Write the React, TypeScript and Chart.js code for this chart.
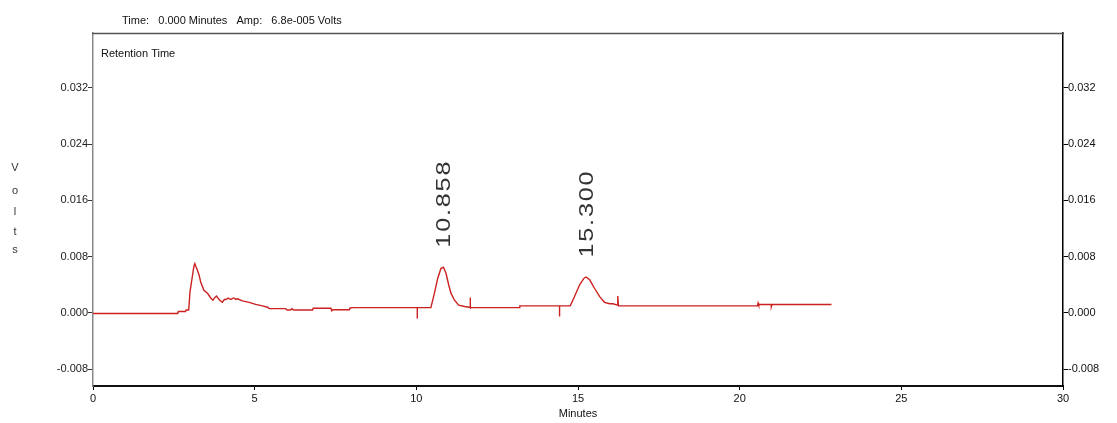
import React, { useEffect, useRef } from 'react';
import { Chart, registerables } from 'chart.js';

Chart.register(...registerables);

// ---- data ----
const traceTimes = [
  0, 2.62, 2.64, 2.86, 2.88, 2.96, 3.0, 3.07, 3.12, 3.15, 3.18, 3.21, 3.28, 3.33, 3.43, 3.54, 3.6, 3.64, 3.71,
  3.77, 3.82, 3.88, 3.92, 4.0, 4.06, 4.11, 4.18, 4.26, 4.33, 4.37, 4.42, 4.47, 4.62, 4.83, 5.03, 5.24, 5.4,
  5.45, 5.96, 6.0, 6.1, 6.15, 6.2, 6.79, 6.81, 7.36, 7.38, 7.42, 7.93, 7.95, 8.05,
  10.03, 10.03, 10.03, 10.45, 10.56, 10.66, 10.76, 10.84, 10.92, 11.0, 11.07, 11.18, 11.31, 11.49, 11.64,
  11.66, 11.66, 11.68, 13.18, 13.2, 14.43, 14.43, 14.43, 14.76, 14.89, 15.05, 15.18, 15.25, 15.36, 15.51,
  15.67, 15.82, 15.98, 16.08, 16.22, 16.23, 16.23, 16.25, 20.55, 20.57, 20.59, 20.65, 20.97, 20.98, 21.0, 22.84,
];
const traceVolts = [
  -0.0001, -0.0001, 0.0002, 0.0002, 0.0004, 0.0004, 0.003, 0.0051, 0.0066, 0.007, 0.0066, 0.0063, 0.0054,
  0.0044, 0.0032, 0.0028, 0.0024, 0.0021, 0.0018, 0.0022, 0.0024, 0.002, 0.0018, 0.0015, 0.0019, 0.0019,
  0.0021, 0.0019, 0.0021, 0.0021, 0.0019, 0.002, 0.0017, 0.0015, 0.0012, 0.001, 0.0008, 0.0006, 0.0006,
  0.0004, 0.0004, 0.0006, 0.0004, 0.0004, 0.00065, 0.00065, 0.0003, 0.00045, 0.00045, 0.0007, 0.00075,
  0.00075, -0.0008, 0.00075, 0.00075, 0.0028, 0.0049, 0.0063, 0.0065, 0.0056, 0.004, 0.0028, 0.0018, 0.0011,
  0.0009, 0.0008, 0.0008, 0.0022, 0.00075, 0.00075, 0.001, 0.001, -0.0005, 0.001, 0.001, 0.0023, 0.004,
  0.0049, 0.0051, 0.0047, 0.0035, 0.0023, 0.0015, 0.0013, 0.0013, 0.0011, 0.0011, 0.0024, 0.001, 0.001,
  0.0014, 0.0011, 0.0012, 0.0012, 0.0009, 0.0012, 0.0012,
];
const xTicks = [0, 5, 10, 15, 20, 25, 30];
const yTicks = [-0.008, 0, 0.008, 0.016, 0.024, 0.032];
const peakTimes = [10.858, 15.3];
const peakApex = [0.0065, 0.0051];
const peakLabels = ['10.858', '15.300'];
const headerText = 'Time:   0.000 Minutes   Amp:   6.8e-005 Volts';
const boxTitle = 'Retention Time';
const xTitle = 'Minutes';
const yTitle = 'Volts';

const FONT = '"Liberation Sans", Arial, sans-serif';

const decor = {
  id: 'decor',
  afterDraw(chart: any) {
    const { ctx, chartArea, scales } = chart;
    ctx.save();
    // top border of the plot box
    ctx.strokeStyle = '#555';
    ctx.lineWidth = 1.5;
    ctx.beginPath();
    ctx.moveTo(chartArea.left - 1, chartArea.top + 0.5);
    ctx.lineTo(chartArea.right + 1, chartArea.top + 0.5);
    ctx.stroke();

    ctx.fillStyle = '#111';
    ctx.font = `11px ${FONT}`;
    ctx.textBaseline = 'middle';
    ctx.textAlign = 'left';
    ctx.fillText(headerText, 122, 21);
    ctx.fillText(boxTitle, 101, 54);
    ctx.textAlign = 'center';
    ctx.fillText(xTitle, (chartArea.left + chartArea.right) / 2, 414);

    // stacked y title
    ctx.fillStyle = '#333';
    const ys = [168, 191, 212, 232, 250];
    yTitle.split('').forEach((c, i) => ctx.fillText(c, 15, ys[i]));

    // peak labels
    const xs = scales.x;
    const yS = scales.y;
    ctx.fillStyle = '#333';
    ctx.font = `21px ${FONT}`;
    (ctx as any).letterSpacing = '1.5px';
    peakTimes.forEach((t, i) => {
      const px = xs.getPixelForValue(t);
      const py = yS.getPixelForValue(peakApex[i]) - 19.5;
      ctx.save();
      ctx.translate(px, py);
      ctx.rotate(-Math.PI / 2);
      ctx.scale(1.2, 1);
      ctx.textAlign = 'left';
      ctx.textBaseline = 'middle';
      ctx.fillText(peakLabels[i], 0, 0);
      ctx.restore();
    });
    ctx.restore();
  },
};

export default function App() {
  const ref = useRef<HTMLCanvasElement | null>(null);
  useEffect(() => {
    if (!ref.current) return;
    const data = traceTimes.map((t, i) => ({ x: t, y: traceVolts[i] }));
    const yRange = { min: -0.0104, max: 0.0398 };
    const tickFont = { family: FONT, size: 11 };
    const chart = new Chart(ref.current, {
      type: 'scatter',
      data: {
        datasets: [
          {
            data,
            showLine: true,
            borderColor: '#cc2020',
            borderWidth: 1.4,
            pointRadius: 0,
            tension: 0,
          },
        ],
      },
      options: {
        animation: false,
        responsive: false,
        events: [],
        layout: { padding: { top: 33, left: 0, right: 0, bottom: 0 } },
        plugins: { legend: { display: false }, tooltip: { enabled: false } },
        scales: {
          x: {
            type: 'linear',
            position: 'bottom',
            min: 0,
            max: 30,
            afterBuildTicks: (s: any) => {
              s.ticks = xTicks.map((v) => ({ value: v }));
            },
            afterFit: (s: any) => {
              s.height = 37;
            },
            ticks: { color: '#111', font: tickFont, padding: 2, maxRotation: 0, autoSkip: false },
            grid: { drawOnChartArea: false, tickLength: 4, color: '#000', tickWidth: 1 },
            border: { color: '#111', width: 2 },
          },
          y: {
            type: 'linear',
            position: 'left',
            ...yRange,
            afterBuildTicks: (s: any) => {
              s.ticks = yTicks.map((v) => ({ value: v }));
            },
            afterFit: (s: any) => {
              s.width = 93;
            },
            ticks: {
              color: '#222',
              font: tickFont,
              padding: 0,
              autoSkip: false,
              callback: (v: any) => Number(v).toFixed(3),
            },
            grid: { drawOnChartArea: false, tickLength: 5, color: '#333' },
            border: { color: '#888', width: 1.5 },
          },
          y2: {
            type: 'linear',
            position: 'right',
            ...yRange,
            afterBuildTicks: (s: any) => {
              s.ticks = yTicks.map((v) => ({ value: v }));
            },
            afterFit: (s: any) => {
              s.width = 54;
            },
            ticks: {
              color: '#111',
              font: tickFont,
              padding: 0,
              autoSkip: false,
              callback: (v: any) => Number(v).toFixed(3),
            },
            grid: { drawOnChartArea: false, tickLength: 5, color: '#000' },
            border: { color: '#000', width: 1.5 },
          },
        },
      },
      plugins: [decor],
    } as any);
    return () => chart.destroy();
  }, []);
  return (
    <div style={{ position: 'fixed', left: 0, top: 0, width: 1117, height: 423, background: '#fff' }}>
      <canvas ref={ref} width={1117} height={423} style={{ display: 'block', width: 1117, height: 423 }} />
    </div>
  );
}
